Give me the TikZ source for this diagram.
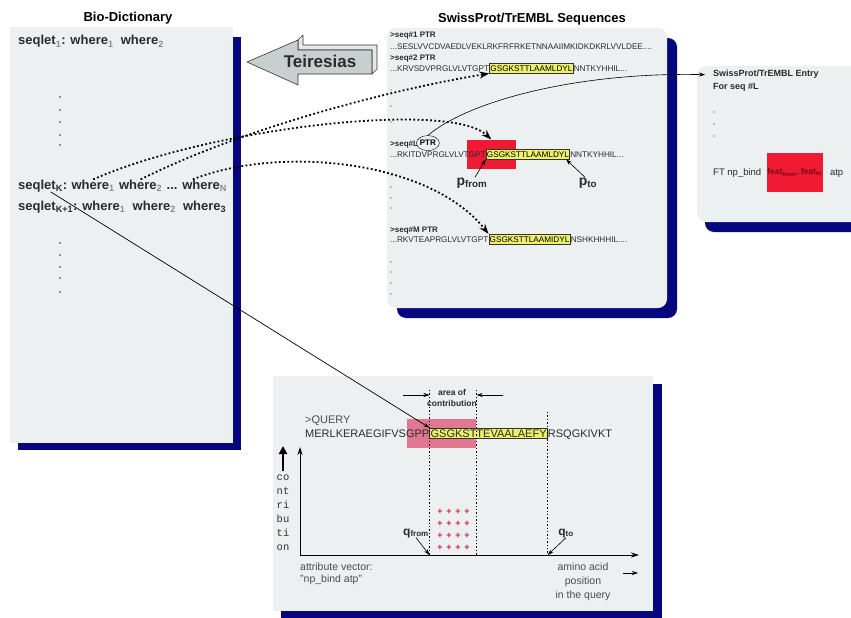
\documentclass[tikz,border=0pt]{standalone}
\usepackage{fontspec}
\setmainfont{Liberation Sans}
\setmonofont{Liberation Mono}
\usepackage{xcolor}
\usepackage{tikz}
\usetikzlibrary{positioning,arrows.meta,calc,shapes.geometric}
\definecolor{cPanel}{HTML}{EDF0F0}
\definecolor{cShade}{HTML}{06067E}
\definecolor{cHit}  {HTML}{EDF06A}
\definecolor{cRed}  {HTML}{F01A32}
\definecolor{cPink} {HTML}{E07892}
\definecolor{cInk}  {HTML}{2B2B2B}
\definecolor{cSub}  {HTML}{8A8A8A}
\definecolor{cArrow}{HTML}{C9CECE}
\definecolor{cFace} {HTML}{E6E9E9}
\definecolor{cPlus} {HTML}{D0203C}
\definecolor{cFeat} {HTML}{7A0A14}
\newcommand\fz[1]{\fontsize{#1}{#1}\selectfont}
\newcommand\lsub[1]{\textsubscript{\textcolor{cSub}{#1}}}
\pgfdeclarelayer{bg}
\pgfdeclarelayer{mid}
\pgfsetlayers{bg,mid,main}
\tikzset{
  >={Stealth[length=6pt,width=4pt]},
  panel/.style={fill=cPanel},
  shade/.style={fill=cShade},
  ttl/.style={font=\fz{13}\bfseries,inner sep=0pt},
  lex/.style={font=\fz{13}\bfseries,text=cInk,inner sep=0pt,anchor=base west},
  hdr/.style={font=\fz{8}\bfseries,text=cInk,inner sep=0pt,anchor=base west},
  seq/.style={font=\fz{8.2},text=cInk,inner sep=0pt,anchor=base west},
  hit/.style={fill=cHit,draw=black!80,line width=0.7pt,inner xsep=0.8pt,
              inner ysep=2pt,anchor=base west,font=\fz{8.2}},
  qseq/.style={font=\fz{11},text=cInk,inner sep=0pt,anchor=base west},
  qhit/.style={qseq,fill=cHit,draw=black!80,line width=0.7pt,inner xsep=0.8pt,
               inner ysep=1.2pt},
  lbl/.style={font=\fz{10.5},text=black!70,inner sep=0pt},
  ehd/.style={font=\fz{9}\bfseries,text=cInk,inner sep=0pt,anchor=base west},
  etx/.style={font=\fz{9.5},text=cInk,inner sep=0pt,anchor=base west},
  plab/.style={font=\fz{14}\bfseries,text=cInk,inner sep=0pt,anchor=base},
  redbox/.style={fill=cRed,inner sep=0pt},
  dotarr/.style={line width=1.8pt,dash pattern=on 1.8pt off 2.4pt,
                 -{Stealth[length=10pt,width=7pt]}},
  tarr/.style={->,line width=0.6pt},
  axarr/.style={line width=0.9pt,-{Stealth[length=8pt,width=5pt]}},
  vdot/.style={line width=1.4pt,dash pattern=on 1.4pt off 2pt},
}

\begin{document}
\begin{tikzpicture}[x=1pt,y=-1pt]
\useasboundingbox (0,0) rectangle (851,618);
\begin{pgfonlayer}{bg}
  \fill[shade] (18,37) rectangle (241,450);
  \fill[panel] (10,27) rectangle (233,443);
  \fill[shade,rounded corners=9pt] (397,38) rectangle (677,318);
  \fill[panel,rounded corners=9pt] (387,28) rectangle (667,308);
  \fill[shade,rounded corners=9pt] (705,74) rectangle (870,232);
  \fill[panel,rounded corners=9pt] (697,66) rectangle (862,222);
  \fill[shade] (281,384) rectangle (662,625);
  \fill[panel] (273,376) rectangle (653,611);
\end{pgfonlayer}

% bio-dictionary
\node[ttl] (bioT) at (128,18) {Bio-Dictionary};
\node[lex] (l1) at (18,45) {seqlet\lsub{1}: where\lsub{1}\ \ where\lsub{2}};
\node[lex] (sk) at (18,189) {seqlet\textsubscript{K}:};
\node[lex] (wk1) at ([xshift=4pt]sk.base east) {where\lsub{1}};
\node[lex] (wk2) at ([xshift=4pt]wk1.base east) {where\lsub{2}};
\node[lex] (wkn) at ([xshift=4pt]wk2.base east) {... where\lsub{N}};
\node[lex] (l2) at (18,210) {seqlet\textsubscript{K+1}: where\lsub{1}\ \ where\lsub{2}\ \ where\textsubscript{3}};
\foreach \y in {97,110,122,135,145,243,255,267,278,292}
  \fill[cInk] (60,\y) circle (0.8pt);

% teiresias
\filldraw[fill=cFace,draw=black!80,line width=0.6pt,line join=round]
  (298,40) -- (303,35) -- (303,45) -- (377,45) -- (377,69) -- (372,74)
  -- (372,50) -- (298,50) -- cycle;
\filldraw[fill=cArrow,draw=black!80,line width=0.6pt,line join=round]
  (247,62) -- (298,40) -- (298,50) -- (372,50) -- (372,74) -- (298,74)
  -- (298,85) -- cycle;
\node[font=\fz{17}\bfseries,text=cInk] (teir) at (320,61) {Teiresias};

% sequences
\node[ttl] (spT) at (532,19) {SwissProt/TrEMBL Sequences};
\node[hdr] (s1h) at (390,38) {>seq\#1 PTR};
\node[seq] (s1) at (390,49) {...SESLVVCDVAEDLVEKLRKFRFRKETNNAAIIMKIDKDKRLVVLDEE....};
\node[hdr] (s2h) at (390,61) {>seq\#2 PTR};
\node[seq] (s2a) at (390,71) {...KRVSDVPRGLVLVTGPT};
\node[hit] (h2) at (s2a.base east) {GSGKSTTLAAMLDYL};
\node[seq] (s2c) at (h2.base east) {NNTKYHHIL...};
\node[hdr] (lh) at (390,146) {>seq\#L};
\node[ellipse,draw,font=\fz{8}\bfseries,inner sep=0pt,minimum width=23pt,
  minimum height=15pt,anchor=west] (lptr) at ([xshift=-2pt,yshift=1pt]lh.east) {PTR};
\node[seq] (sL) at (390,157) {...RKITDVPRGLVLVTGPT};
\node[hit] (hL) at (sL.base east) {GSGKSTTLAAMLDYL};
\node[seq] (sLc) at (hL.base east) {NNTKYHHIL...};
\begin{pgfonlayer}{mid}
  \node[redbox,minimum width=49pt,minimum height=29pt] (rL) at ([xshift=5.5pt]hL.west) {};
\end{pgfonlayer}
\node[plab] (pf) at (472,185) {p\textsubscript{from}};
\node[plab] (pt) at (588,185) {p\textsubscript{to}};
\draw[tarr] ([xshift=3pt]pf.north) -- (hL.south west);
\draw[tarr] ([xshift=-3pt]pt.north) -- ([xshift=-4pt]hL.south east);
\node[hdr] (mh) at (390,232) {>seq\#M PTR};
\node[seq] (sM) at (390,242) {...RKVTEAPRGLVLVTGPT};
\node[hit] (hM) at (sM.base east) {GSGKSTTLAAMIDYL};
\node[seq] (sMc) at (hM.base east) {NSHKHHHIL....};
\foreach \y in {90,106,122,175,187,198,208,262,272,283,294}
  \fill[cInk] (391,\y) circle (0.6pt);

% entry
\node[ehd] (ent) at (713,77) {SwissProt/TrEMBL Entry};
\node[ehd] (eseq) at (713,89) {For seq \#L};
\foreach \y in {112,124,136}
  \fill[cInk] (714,\y) circle (0.6pt);
\node[etx] (ft) at (713,175) {FT np\_bind};
\node[redbox,minimum width=56pt,minimum height=39pt,font=\fz{8.5}\bfseries,
  text=cFeat,anchor=west] (eRed) at ([xshift=5pt]ft.east) {feat\textsubscript{from}, feat\textsubscript{to}};
\node[etx] (atp) at ([xshift=7pt]eRed.east |- ft.base) {atp};
\draw[tarr] (lptr.north) .. controls (470,100) and (580,72) .. ([xshift=-8pt]ent.west);

% query
\node[lbl,font=\fz{11},anchor=base west] (qh) at (305,423) {>QUERY};
\node[qseq] (qa) at (305,437) {MERLKERAEGIFVSGPP};
\node[qhit] (qb) at (qa.base east) {GSGKSTTEVAALAEFY};
\node[qseq] (qc) at (qb.base east) {RSQGKIVKT};
\begin{pgfonlayer}{mid}
  \node[fill=cPink,minimum width=69pt,minimum height=29pt,inner sep=0pt] (qp)
    at ([xshift=12.5pt]qb.west) {};
\end{pgfonlayer}
\node[font=\fz{8.5}\bfseries,align=center,text=cInk,inner sep=0pt] (aoc)
  at (452,398) {area of\\[2pt]contribution};
\coordinate (org) at (300,555);
\coordinate (ytop) at (300,447);
\coordinate (xend) at (639,555);
\draw[vdot] (qb.west |- 0,390) -- (qb.west |- org);
\draw[vdot] (qp.east |- 0,390) -- (qp.east |- org);
\draw[vdot] (qb.east |- 0,412) -- (qb.east |- org);
\coordinate (aocL) at (403,395);
\coordinate (aocR) at (503,395);
\draw[tarr] (aocL) -- (qb.west |- aocL);
\draw[tarr] (aocR) -- (qp.east |- aocR);
\draw[axarr] (org) -- (ytop);
\draw[axarr] (org) -- (xend);
\coordinate (cb) at (283,471);
\coordinate (ct) at (283,446);
\draw[line width=2.6pt,-{Triangle[length=8pt,width=8pt]}] (cb) -- (ct);
\node[font=\fontsize{10.5}{14}\selectfont\ttfamily,text=black!80,align=center,
  inner sep=0pt] (cvt) at (283,513) {co\\nt\\ri\\bu\\ti\\on};
\foreach \x in {440,449,458,467}
  \foreach \y in {512,524,536,548}
    \node[font=\fz{9}\bfseries,text=cPlus,inner sep=0pt] at (\x,\y) {+};
\node[plab,font=\fz{12}\bfseries] (qf) at (416,535) {q\textsubscript{from}};
\node[plab,font=\fz{12}\bfseries] (qt) at (566,535) {q\textsubscript{to}};
\draw[tarr] (qf.south) -- (qb.west |- org);
\draw[tarr] (qt.south) -- (qb.east |- org);
\node[lbl,font=\fontsize{10.5}{11.5}\selectfont,align=left,anchor=north west] (attr)
  at (300,563) {attribute vector:\\"np\_bind atp"};
\node[lbl,font=\fontsize{10.5}{14}\selectfont,align=center,anchor=north] (aa)
  at (583,563) {amino acid\\position\\in the query};
\coordinate (aaL) at (623,573);
\coordinate (aaR) at (638,573);
\draw[tarr] (aaL) -- (aaR);

% links
\draw[tarr,line width=0.7pt] ([xshift=8pt]sk.south) -- (qb.north west);
\draw[dotarr] (wk1.north) .. controls (210,128) and (450,100) .. (rL.north);
\draw[dotarr] (wk2.north) .. controls (250,125) and (400,88) .. (h2.south west);
\draw[dotarr] ([xshift=-4pt]wkn.north) .. controls (280,145) and (430,160) .. (hM.north west);
\end{tikzpicture}
\end{document}
